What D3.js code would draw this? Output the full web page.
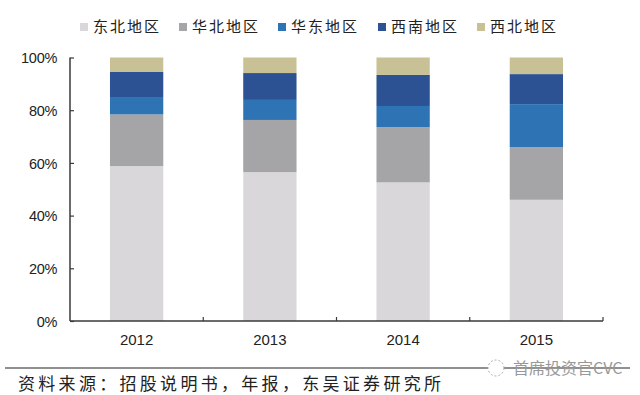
<!DOCTYPE html>
<html><head><meta charset="utf-8">
<script src="https://cdn.jsdelivr.net/npm/d3@7"></script>
<style>html,body{margin:0;padding:0;background:#fff}svg{display:block}</style></head>
<body><svg id="c" width="640" height="395"></svg>
<script>
const years = ["2012","2013","2014","2015"];
const regions = ["东北地区","华北地区","华东地区","西南地区","西北地区"];
const colors = ["#d9d7da","#a5a5a7","#2e74b5","#2c5293","#c8c195"];
const northeast = [58.8,56.5,52.6,46.0];
const north = [19.6,19.8,21.0,20.0];
const east = [6.6,7.6,8.0,16.3];
const southwest = [9.5,10.2,11.8,11.4];
const northwest = [5.5,5.9,6.6,6.3];
const yTicks = [0,20,40,60,80,100];
const sourceText = "资料来源\uFF1A招股说明书\uFF0C年报\uFF0C东吴证券研究所";
const watermarkText = "首席投资官CVC";

const series = [northeast,north,east,southwest,northwest];
const table = years.map((y,i)=>{const r={year:y};regions.forEach((n,k)=>r[n]=series[k][i]);return r;});
const stacked = d3.stack().keys(regions)(table);
const svg = d3.select("#c");
const sans = "Liberation Sans, Arial, sans-serif";
const cjk = "'Noto Sans CJK SC', sans-serif";
const x = d3.scaleBand().domain(years).range([70,603]).paddingInner(0.6).paddingOuter(0.3);
const y = d3.scaleLinear().domain([0,100]).range([321,57.5]);

svg.append("g").selectAll("g").data(stacked).join("g").attr("fill",(d,i)=>colors[i])
  .selectAll("rect").data(d=>d).join("rect")
  .attr("x",d=>x(d.data.year)).attr("width",x.bandwidth())
  .attr("y",d=>y(d[1])).attr("height",d=>y(d[0])-y(d[1]));

const axisColor="#3a3a3a";
const gy = svg.append("g").attr("transform","translate(70,0)")
  .call(d3.axisLeft(y).tickValues(yTicks).tickFormat(d=>d+"%").tickSize(-4).tickPadding(12));
gy.select(".domain").attr("stroke",axisColor).attr("stroke-width",1.5).attr("d",`M0,${y(100)}V${y(0)}`);
gy.selectAll(".tick line").attr("stroke",axisColor).attr("stroke-width",1.2);
gy.selectAll("text").attr("font-family",sans).attr("font-size",14.5).attr("letter-spacing",-0.3).attr("fill","#222").attr("x",-13).attr("dy","0.36em");

const step = x.step();
const edges = [70,...years.slice(1).map(v=>x(v)+x.bandwidth()/2-step/2),603];
const gx = svg.append("g").attr("transform","translate(0,321)")
  .call(d3.axisBottom(x).tickSize(0).tickPadding(13));
gx.select(".domain").attr("stroke",axisColor).attr("stroke-width",1.5).attr("d","M70,0H603");
gx.selectAll("text").attr("font-family",sans).attr("font-size",15).attr("fill","#222");
gx.selectAll("line.e").data(edges.slice(1)).join("line").attr("class","e")
  .attr("x1",d=>d).attr("x2",d=>d).attr("y1",0).attr("y2",-4)
  .attr("stroke",axisColor).attr("stroke-width",1.2);

const legendX = [80,179,278,378,477];
const lg = svg.append("g").selectAll("g").data(regions).join("g")
  .attr("transform",(d,i)=>`translate(${legendX[i]},27)`);
lg.append("rect").attr("y",-4).attr("width",8).attr("height",8).attr("fill",(d,i)=>colors[i]);
lg.append("text").attr("x",13).attr("y",0).attr("dy","0.36em")
  .attr("font-family",cjk).attr("font-size",15).attr("letter-spacing",2).attr("fill","#222").text(d=>d);

svg.append("line").attr("x1",5).attr("x2",630).attr("y1",368).attr("y2",368).attr("stroke","#222").attr("stroke-width",1.2);
svg.append("text").attr("x",18).attr("y",390).attr("font-family",cjk).attr("font-size",17)
  .attr("letter-spacing",3.3).attr("fill","#222").text(sourceText);

const wm = svg.append("g");
wm.append("circle").attr("cx",496).attr("cy",368).attr("r",8).attr("fill","#fff").attr("stroke","#aaa").attr("stroke-dasharray","2 2");
wm.append("text").attr("x",513).attr("y",374).attr("font-family",cjk).attr("font-size",16).attr("fill","#999").text(watermarkText);
</script></body></html>
